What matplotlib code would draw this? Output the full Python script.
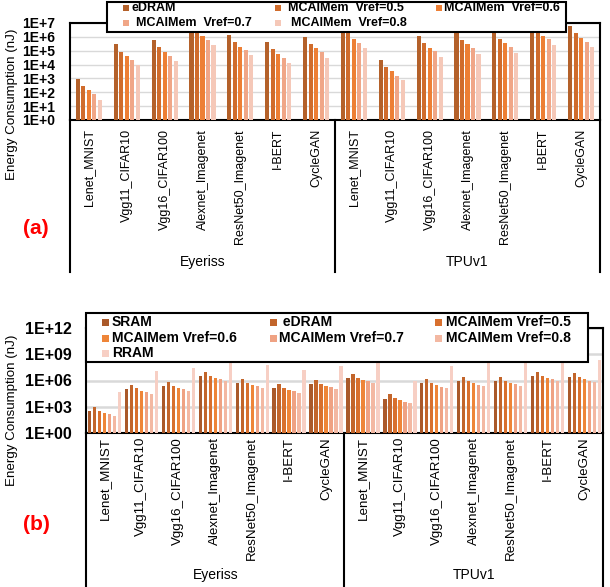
import numpy as np
import matplotlib
matplotlib.use("Agg")
import matplotlib.pyplot as plt
from matplotlib.patches import Rectangle
from matplotlib.ticker import FixedLocator, FixedFormatter

plt.rcParams['font.family'] = ['Liberation Sans', 'DejaVu Sans']

# ------------------------------
# 1. Data
# ------------------------------
benchmarks = ["Lenet_MNIST", "Vgg11_CIFAR10", "Vgg16_CIFAR100", "Alexnet_Imagenet",
              "ResNet50_Imagenet", "I-BERT", "CycleGAN"]
platforms = ["Eyeriss", "TPUv1"]

# panel (a): Eyeriss groups first, then TPUv1
a_names = ["eDRAM", "MCAIMem  Vref=0.5", "MCAIMem  Vref=0.6", "MCAIMem  Vref=0.7", "MCAIMem  Vref=0.8"]
a_edram = [850, 3.2e5, 6e5, 1e7, 1.45e6, 4e5, 1e6,
           6e6, 2.3e4, 1.2e6, 2.8e6, 2.8e6, 1e7, 6.1e6]
a_v05 = [270, 8.5e4, 1.9e5, 3.5e6, 4.6e5, 1.24e5, 3.2e5,
         2.1e6, 7.2e3, 3.7e5, 6.2e5, 7.6e5, 3.5e6, 1.9e6]
a_v06 = [140, 4.4e4, 8.5e4, 1.2e6, 2e5, 5.5e4, 1.6e5,
         7.6e5, 3.2e3, 1.6e5, 3.2e5, 3.7e5, 1.2e6, 8.5e5]
a_v07 = [72, 2.3e4, 4.4e4, 6e5, 1.05e5, 2.8e4, 8.5e4,
         3.7e5, 1.6e3, 1e5, 1.6e5, 1.9e5, 7.2e5, 4.4e5]
a_v08 = [28, 1e4, 1.9e4, 2.7e5, 4.6e4, 1.24e4, 3.2e4,
         1.6e5, 720, 3.7e4, 6.2e4, 7.2e4, 2.7e5, 1.9e5]
a_colors = ["#B4612A", "#D06C2C", "#ED7F35", "#F0A687", "#F5C8B8"]

# panel (b)
b_names = ["SRAM", " eDRAM", "MCAIMem Vref=0.5", "MCAIMem Vref=0.6",
           "MCAIMem Vref=0.7", "MCAIMem Vref=0.8", "RRAM"]
b_sram = [360, 1.1e5, 2.5e5, 3.5e6, 5.6e5, 1.5e5, 4.3e5,
          2.1e6, 8e3, 5.6e5, 9.5e5, 9.5e5, 3.5e6, 2.8e6]
b_edram = [980, 3.3e5, 7.2e5, 1e7, 1.6e6, 4.3e5, 1.2e6,
           6e6, 3e4, 1.6e6, 2.8e6, 2.8e6, 1e7, 7.9e6]
b_v05 = [360, 1.5e5, 2.5e5, 3.5e6, 5.6e5, 1.5e5, 4.3e5,
         2.1e6, 1e4, 5.6e5, 9.5e5, 9.5e5, 3.5e6, 2.8e6]
b_v06 = [200, 6.8e4, 1.5e5, 2.1e6, 3.3e5, 8.8e4, 2.5e5,
         1.2e6, 6.2e3, 3.3e5, 5.6e5, 5.6e5, 2.1e6, 1.6e6]
b_v07 = [150, 5.1e4, 1.1e5, 1.6e6, 2.5e5, 6.8e4, 1.9e5,
         9.5e5, 3.6e3, 1.9e5, 3.3e5, 4.3e5, 1.6e6, 9.5e5]
b_v08 = [98, 3e4, 6.8e4, 9.5e5, 1.5e5, 4e4, 1.1e5,
         5.6e5, 2.8e3, 1.5e5, 2.5e5, 2.5e5, 9.5e5, 7.2e5]
b_rram = [4.3e4, 1.3e7, 3e7, 3e8, 6.6e7, 1.7e7, 5e7,
          3e8, 9.5e5, 5e7, 2.5e8, 2.5e8, 2.5e8, 2.5e8]
b_colors = ["#AA592A", "#C2652B", "#D8702E", "#EE8538", "#EFA283", "#F3B8A2", "#F7CFC4"]

a_exps = [0, 1, 2, 3, 4, 5, 6, 7]
b_exps = [0, 3, 6, 9, 12]

# ------------------------------
# 2. Figure helpers (pixel layout, dpi 100)
# ------------------------------
W, H = 610, 587
fig = plt.figure(figsize=(W / 100, H / 100), dpi=100)


def fx(x):
    return x / W


def fy(y):
    return 1 - y / H


def make_axes(left, top, right, bottom):
    return fig.add_axes([fx(left), fy(bottom), (right - left) / W, (bottom - top) / H])


def draw_panel(ax, series, colors, spacing, width, exps, labels, ytop_exp, tick_size, tick_pad, grid_lw):
    n = len(series)
    x = np.arange(len(platforms) * len(benchmarks))
    for i, (vals, col) in enumerate(zip(series, colors)):
        ax.bar(x + (i - (n - 1) / 2) * spacing, vals, width=width, color=col, zorder=3)
    ax.set_yscale('log')
    ax.set_ylim(1, 10.0 ** ytop_exp)
    ax.set_xlim(-0.5, len(x) - 0.5)
    ax.yaxis.set_major_locator(FixedLocator([10.0 ** e for e in exps]))
    ax.yaxis.set_major_formatter(FixedFormatter(labels))
    ax.yaxis.set_minor_locator(FixedLocator([]))
    ax.set_xticks([])
    ax.tick_params(axis='y', length=0, pad=tick_pad, labelsize=tick_size)
    for t in ax.get_yticklabels():
        t.set_fontweight('bold')
    ax.grid(axis='y', color='#D9D9D9', lw=grid_lw, zorder=0)
    for s in ax.spines.values():
        s.set_linewidth(1.5)


def draw_categories(ax, ax_bottom, label_top, line_bottom, group_y, cat_size, group_size):
    bbox = ax.get_position()
    h_px = bbox.height * H
    to_frac = lambda y: (ax_bottom - y) / h_px
    trans = ax.get_xaxis_transform()
    ngroups = len(benchmarks)
    for p, plat in enumerate(platforms):
        for j, name in enumerate(benchmarks):
            ax.text(p * ngroups + j, to_frac(label_top), name, transform=trans, rotation=90,
                    ha='center', va='top', fontsize=cat_size)
        ax.text(p * ngroups + (ngroups - 1) / 2, to_frac(group_y), plat, transform=trans,
                ha='center', va='center', fontsize=group_size)
    for xl in [-0.5, ngroups - 0.5, 2 * ngroups - 0.5]:
        ax.plot([xl, xl], [0, to_frac(line_bottom)], transform=trans, color='black',
                lw=1.5, clip_on=False)


def draw_legend(box, names, colors, marker_x, text_x, rows, msize, fsize):
    x0, y0, x1, y1 = box
    fig.add_artist(Rectangle((fx(x0), fy(y1)), (x1 - x0) / W, (y1 - y0) / H,
                             transform=fig.transFigure, facecolor='white',
                             edgecolor='black', lw=1.5, zorder=10))
    for name, col, mx, tx, ry in zip(names, colors, marker_x, text_x, rows):
        fig.add_artist(Rectangle((fx(mx), fy(ry + msize / 2)), msize / W, msize / H,
                                 transform=fig.transFigure, facecolor=col,
                                 edgecolor='none', zorder=11))
        fig.text(fx(tx), fy(ry), name, ha='left', va='center', fontsize=fsize,
                 fontweight='bold', zorder=12)


# ------------------------------
# 3. Panel (a)
# ------------------------------
ax_a = make_axes(70, 23, 600, 120)
draw_panel(ax_a, [a_edram, a_v05, a_v06, a_v07, a_v08], a_colors, 0.145, 0.108,
           a_exps, ["1E+%d" % e for e in a_exps], 7, 10, 11, 1.0)
draw_categories(ax_a, 120, 129, 272, 262, 9, 10)
draw_legend((107, 2, 566, 32), a_names, a_colors,
            [123, 275, 436, 123, 275], [132, 288, 444, 136, 291],
            [8, 8, 8, 23, 23], 6, 9)
fig.text(fx(12), fy(104), "Energy Consumption (nJ)", rotation=90, ha='center', va='center',
         fontsize=9.6)
fig.text(fx(36), fy(228), "(a)", color='#FF0000', fontsize=15, fontweight='bold',
         ha='center', va='center')

# ------------------------------
# 4. Panel (b)
# ------------------------------
ax_b = make_axes(86, 328, 603, 433)
draw_panel(ax_b, [b_sram, b_edram, b_v05, b_v06, b_v07, b_v08, b_rram], b_colors, 0.1355, 0.09,
           b_exps, ["1E+%02d" % e for e in b_exps], 12, 11.5, 10, 1.8)
draw_categories(ax_b, 433, 437, 590, 575, 9.6, 10)
draw_legend((86, 313, 588, 362), b_names, b_colors,
            [102, 270, 435, 102, 270, 435, 102], [112, 279, 446, 112, 279, 446, 112],
            [322, 322, 322, 338, 338, 338, 353], 7, 10)
fig.text(fx(12), fy(410), "Energy Consumption (nJ)", rotation=90, ha='center', va='center',
         fontsize=9.6)
fig.text(fx(36), fy(525), "(b)", color='#FF0000', fontsize=15, fontweight='bold',
         ha='center', va='center')

fig.savefig("out.png", dpi=100)
